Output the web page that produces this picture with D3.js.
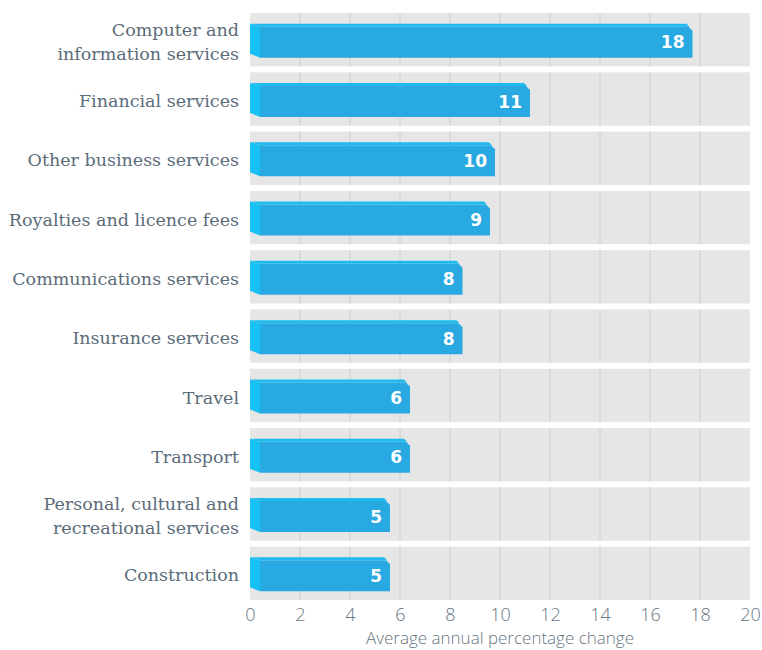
<!DOCTYPE html>
<html lang="en">
	<head>
		<meta charset="utf-8">
		<style type="text/css">
			html, body {
				margin: 0;
				padding: 0;
				background: #fff;
			}
			.cat {
				font-family: "DejaVu Serif", serif;
				font-size: 17.5px;
				fill: #5b6c79;
			}
			.tick text {
				font-family: "Open Sans", "DejaVu Sans", sans-serif;
				font-weight: 300;
				font-size: 18px;
				fill: #66767f;
			}
			.axis-title {
				font-family: "Open Sans", "DejaVu Sans", sans-serif;
				font-weight: 300;
				font-size: 17px;
				fill: #66767f;
			}
			.val {
				font-family: "DejaVu Sans", sans-serif;
				font-weight: bold;
				font-size: 17px;
				fill: #fff;
			}
		</style>
	</head>
	<body>
		<svg width="762" height="650"></svg>
	<script src="https://cdn.jsdelivr.net/npm/d3@7"></script>
	<script>
		// categories, top to bottom
		const categories = [
			"Computer and\ninformation services",
			"Financial services",
			"Other business services",
			"Royalties and licence fees",
			"Communications services",
			"Insurance services",
			"Travel",
			"Transport",
			"Personal, cultural and\nrecreational services",
			"Construction"
		]
		// bar lengths as drawn
		const values = [17.3, 10.8, 9.4, 9.2, 8.1, 8.1, 6.0, 6.0, 5.2, 5.2]
		// printed labels
		const valueLabels = ["18", "11", "10", "9", "8", "8", "6", "6", "5", "5"]
		const xTicks = [0, 2, 4, 6, 8, 10, 12, 14, 16, 18, 20]
		const xTitle = "Average annual percentage change"

		const depth = 10   // side face width
		const lip = 3      // top face height
		const barH = 34

		const svg = d3.select("svg")

		const x = d3.scaleLinear()
			.domain([0, 20])
			.range([250, 750])

		const y = d3.scaleBand()
			.domain(categories)
			.range([13, 600])
			.paddingInner(0.1)

		// grey bands with their own grid lines
		const band = svg.append("g")
			.selectAll("g")
			.data(categories)
			.join("g")
			.attr("transform", d => `translate(0,${y(d)})`)

		band.append("rect")
			.attr("x", x(0))
			.attr("width", x(20) - x(0))
			.attr("height", y.bandwidth())
			.attr("fill", "#e6e6e6")

		band.selectAll("line")
			.data(xTicks.slice(1, -1))
			.join("line")
			.attr("x1", d => x(d))
			.attr("x2", d => x(d))
			.attr("y1", 0)
			.attr("y2", y.bandwidth())
			.attr("stroke", "#d2d2d2")
			.attr("stroke-width", 1.2)

		// 3d bars
		const bars = svg.append("g")
			.selectAll("g")
			.data(categories.map((c, i) => ({ c, v: values[i], lab: valueLabels[i] })))
			.join("g")
			.attr("transform", d => `translate(0,${y(d.c) + (y.bandwidth() - barH) / 2 + 1})`)

		// front face
		bars.append("path")
			.attr("fill", "#29a9e1")
			.attr("d", d => {
				const x0 = x(0) + depth, x1 = x(d.v) + depth
				return `M${x0},${lip} L${x1 - 4},${lip} L${x1},${lip + 4} L${x1},${barH} L${x0},${barH} Z`
			})

		// top face
		bars.append("path")
			.attr("fill", "#1fbbee")
			.attr("d", d => {
				const x0 = x(0), x1 = x(d.v) + depth
				return `M${x0},0 L${x1 - 6},0 L${x1 - 3},${lip} L${x0 + depth},${lip} Z`
			})

		// left face
		bars.append("path")
			.attr("fill", "#18c1f4")
			.attr("d", () => {
				const x0 = x(0)
				return `M${x0},0 L${x0 + depth},${lip} L${x0 + depth},${barH} L${x0},${barH - 4} Z`
			})

		bars.append("text")
			.attr("class", "val")
			.attr("x", d => x(d.v) + depth - 8)
			.attr("y", (barH + lip) / 2)
			.attr("dy", "0.36em")
			.attr("text-anchor", "end")
			.text(d => d.lab)

		// category labels
		const cats = svg.append("g")
			.selectAll("text")
			.data(categories)
			.join("text")
			.attr("class", "cat")
			.attr("text-anchor", "end")
			.attr("x", 239)
			.attr("y", d => y(d) + y.bandwidth() / 2 + 2)

		cats.selectAll("tspan")
			.data(d => {
				const lines = d.split("\n")
				return lines.map((l, i) => ({ l, off: (i - (lines.length - 1) / 2) * 24 }))
			})
			.join("tspan")
			.attr("x", 239)
			.attr("y", function (t) { return +d3.select(this.parentNode).attr("y") + t.off })
			.attr("dy", "0.35em")
			.text(t => t.l)

		// x axis
		const axis = svg.append("g")
			.attr("transform", `translate(0,600)`)
			.call(d3.axisBottom(x).tickValues(xTicks).tickSize(0).tickPadding(8).tickFormat(d3.format("d")))

		axis.select(".domain").remove()

		svg.append("text")
			.attr("class", "axis-title")
			.attr("x", (x(0) + x(20)) / 2)
			.attr("y", 644)
			.attr("text-anchor", "middle")
			.text(xTitle)
	</script>
	</body>
</html>
